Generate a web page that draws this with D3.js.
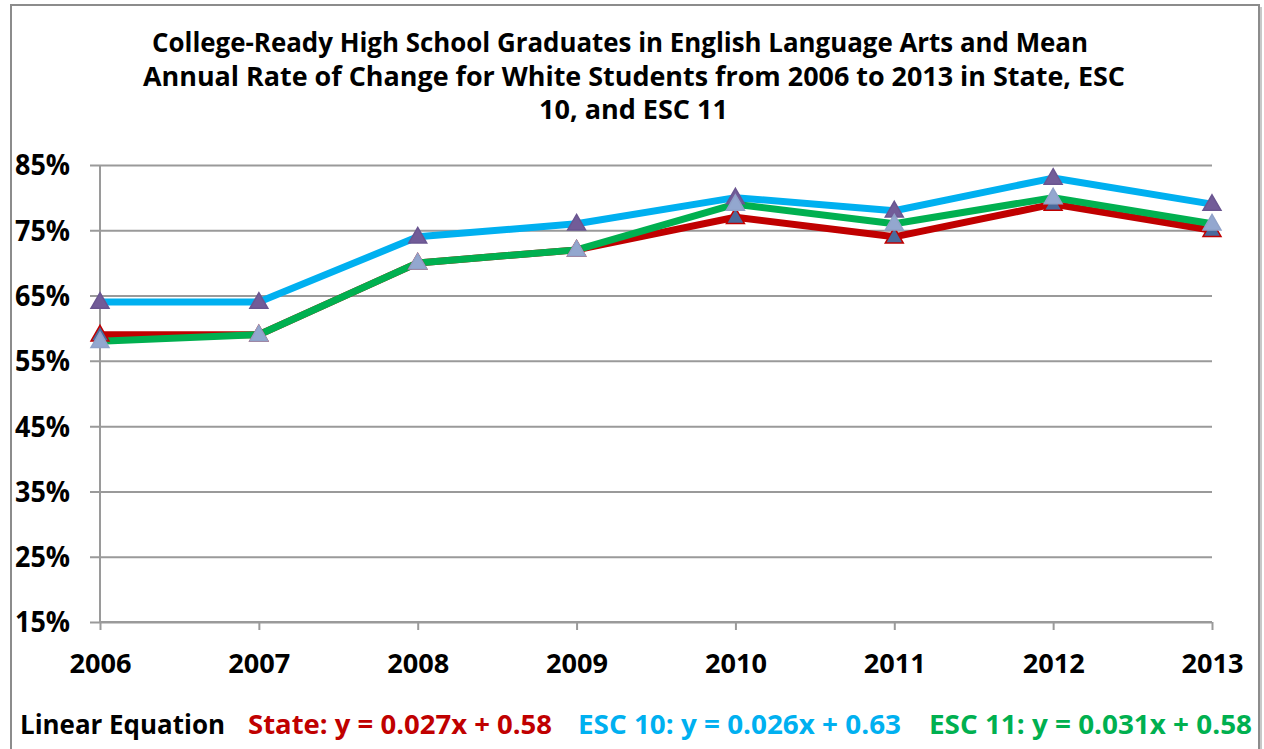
<!DOCTYPE html>
<html><head><meta charset="utf-8">
<script src="https://cdn.jsdelivr.net/npm/d3@7"></script>
<style>html,body{margin:0;padding:0;background:#fff;}svg{display:block;font-family:"Open Sans",sans-serif;font-weight:bold;}</style>
</head><body>
<svg id="c" width="1264" height="749"></svg>
<script>
const years = ["2006","2007","2008","2009","2010","2011","2012","2013"];
const stateVals = [0.59,0.59,0.70,0.72,0.77,0.74,0.79,0.75];
const esc10Vals = [0.64,0.64,0.74,0.76,0.80,0.78,0.83,0.79];
const esc11Vals = [0.58,0.59,0.70,0.72,0.79,0.76,0.80,0.76];
const yTicks = [0.15,0.25,0.35,0.45,0.55,0.65,0.75,0.85];
const titleLines = ["College-Ready High School Graduates in English Language Arts and Mean",
  "Annual Rate of Change for White Students from 2006 to 2013 in State, ESC",
  "10, and ESC 11"];
const eqLabel = "Linear Equation";
const equations = ["State: y = 0.027x + 0.58","ESC 10: y = 0.026x + 0.63","ESC 11: y = 0.031x + 0.58"];

const FONT = "'Open Sans',sans-serif";
const svg = d3.select("#c");
function natWidth(str, size){
  const tmp = svg.append("text").attr("font-size",size).attr("font-family",FONT).attr("font-weight","bold").text(str);
  const w = tmp.node().getComputedTextLength(); tmp.remove();
  return w;
}
function condense(sel, size, k){
  sel.each(function(){
    const s = d3.select(this);
    const w = natWidth(s.text(), size);
    s.attr("textLength", w*k).attr("lengthAdjust","spacingAndGlyphs");
  });
}

// chart border
svg.append("rect").attr("x",11).attr("y",5).attr("width",1248).attr("height",760)
  .attr("fill","#fff").attr("stroke","#8c8c8c").attr("stroke-width",2);
svg.append("line").attr("x1",1261).attr("x2",1261).attr("y1",7).attr("y2",749).attr("stroke","#c8c8c8").attr("stroke-width",2);

const x = d3.scalePoint().domain(years).range([100,1212]);
const y = d3.scaleLinear().domain([0.15,0.85]).range([622,165]);

// title
const tSize = 26.5;
const tX = [152,143,539];
const tW = [936,982,189];
const t = svg.append("g");
titleLines.forEach((l,i)=>{
  t.append("text").attr("font-size",tSize).attr("fill","#000")
   .attr("x",tX[i]).attr("y",52+i*33.5)
   .attr("textLength",tW[i]).attr("lengthAdjust","spacingAndGlyphs").text(l);
});

// y axis with gridlines
const ySize = 29;
const gy = svg.append("g").attr("transform","translate(100,0)")
  .call(d3.axisLeft(y).tickValues(yTicks).tickSize(-1112).tickFormat(d3.format(".0%")));
gy.select(".domain").remove();
gy.selectAll(".tick line").attr("stroke","#9a9a9a").attr("stroke-width",2).attr("x1",-10).attr("x2",1112);
gy.selectAll(".tick text").attr("font-size",ySize).attr("font-family",FONT).attr("font-weight","bold").attr("fill","#000").attr("dy","0.34em").attr("x",-30);
condense(gy.selectAll(".tick text"), ySize, 55/natWidth("85%", ySize));

// y axis line
svg.append("line").attr("x1",100).attr("x2",100).attr("y1",165).attr("y2",622).attr("stroke","#9a9a9a").attr("stroke-width",2);

// x axis
const xSize = 27;
const gx = svg.append("g").attr("transform","translate(0,622)")
  .call(d3.axisBottom(x).tickSize(8));
gx.select(".domain").attr("stroke","#9a9a9a").attr("stroke-width",2).attr("d","M100,0H1212");
gx.selectAll(".tick line").attr("stroke","#9a9a9a").attr("stroke-width",2);
gx.selectAll(".tick text").attr("font-size",xSize).attr("font-family",FONT).attr("font-weight","bold").attr("fill","#000").attr("dy",null).attr("y",51);
condense(gx.selectAll(".tick text"), xSize, 62/natWidth("2006", xSize));

const series = [
  {vals:stateVals, color:"#C00000", mfill:"#4A6A9C", mstroke:"#C00000"},
  {vals:esc10Vals, color:"#00B0F0", mfill:"#725C98", mstroke:"#6A5590"},
  {vals:esc11Vals, color:"#00B050", mfill:"#93A7CF", mstroke:"#8FA1C8"}
];
const line = d3.line().x((d,i)=>x(years[i])).y(d=>y(d));
const tri = d3.symbol().type(d3.symbolTriangle).size(140);
series.forEach(s=>{
  svg.append("path").attr("d",line(s.vals)).attr("fill","none").attr("stroke",s.color).attr("stroke-width",7).attr("stroke-linejoin","round");
});
series.forEach(s=>{
  svg.append("g").selectAll("path").data(s.vals).join("path")
    .attr("d",tri).attr("transform",(d,i)=>`translate(${x(years[i])},${y(d)+1})`)
    .attr("fill",s.mfill).attr("stroke",s.mstroke).attr("stroke-width",1.5);
});

// equations
const eSize = 26.5;
const eqG = svg.append("g");
const eqTexts = [eqLabel].concat(equations);
const eqX = [20,248,578,929];
const eqW = [205,304,323,323];
const eqC = ["#000","#C00000","#00B0F0","#00B050"];
eqTexts.forEach((e,i)=>{
  eqG.append("text").attr("x",eqX[i]).attr("y",734).attr("font-size",eSize).attr("fill",eqC[i])
    .attr("textLength",eqW[i]).attr("lengthAdjust","spacingAndGlyphs").text(e);
});
</script>
</body></html>
